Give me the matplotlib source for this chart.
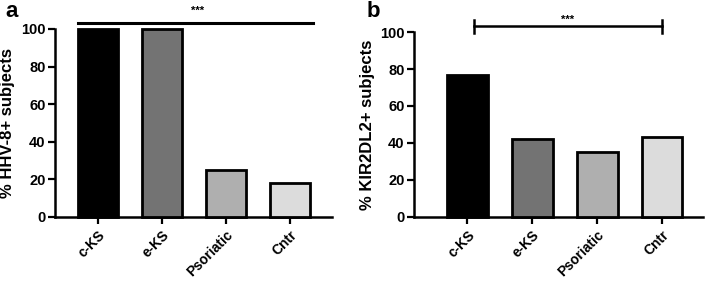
import numpy as np
import matplotlib.pyplot as plt

plt.rcParams['font.family'] = ['Liberation Sans', 'DejaVu Sans']
plt.rcParams['font.weight'] = 'bold'

groups = ['c-KS', 'e-KS', 'Psoriatic', 'Cntr']
hhv8 = [100, 100, 25, 18]
kir = [77, 42, 35, 43]
colors = ['#000000', '#737373', '#afafaf', '#dcdcdc']

fig = plt.figure(figsize=(7.07, 2.81), dpi=100)
ax1 = fig.add_axes([0.078, 0.228, 0.392, 0.669])
ax2 = fig.add_axes([0.586, 0.228, 0.408, 0.658])

x = np.arange(len(groups))


def style(ax, vals, ylabel, xlim):
    ax.bar(x, vals, width=0.63, color=colors, edgecolor='black',
           linewidth=2, clip_on=False, zorder=3)
    ax.set_xlim(*xlim)
    ax.set_ylim(0, 100)
    ax.set_yticks([0, 20, 40, 60, 80, 100])
    ax.set_xticks(x)
    ax.set_xticklabels(groups, rotation=45, ha='right', rotation_mode='anchor',
                       fontsize=10, fontweight='bold')
    ax.tick_params(axis='y', labelsize=10.5, width=1.6, length=5, pad=2)
    ax.tick_params(axis='x', width=1.6, length=5, pad=3)
    for lab in ax.get_yticklabels():
        lab.set_fontweight('bold')
    ax.spines['top'].set_visible(False)
    ax.spines['right'].set_visible(False)
    ax.spines['left'].set_linewidth(1.8)
    ax.spines['bottom'].set_linewidth(1.8)
    ax.set_ylabel(ylabel, fontsize=12, fontweight='bold', labelpad=4)


style(ax1, hhv8, '% HHV-8+ subjects', (-0.67, 3.66))
style(ax2, kir, '% KIR2DL2+ subjects', (-0.82, 3.63))

# significance marks
ax1.plot([-0.32, 3.36], [103, 103], color='black', lw=2.2, clip_on=False)
ax1.text(1.55, 109.5, '***', ha='center', va='center', fontsize=8)

ax2.plot([0.1, 3.0], [103, 103], color='black', lw=1.8, clip_on=False)
ax2.plot([0.1, 0.1], [99.5, 106.5], color='black', lw=1.8, clip_on=False)
ax2.plot([3.0, 3.0], [99.5, 106.5], color='black', lw=1.8, clip_on=False)
ax2.text(1.55, 106.5, '***', ha='center', va='center', fontsize=8)

fig.text(0.008, 0.96, 'a', fontsize=16, fontweight='bold', va='center')
fig.text(0.519, 0.96, 'b', fontsize=16, fontweight='bold', va='center')

fig.savefig('out.png', dpi=100)
